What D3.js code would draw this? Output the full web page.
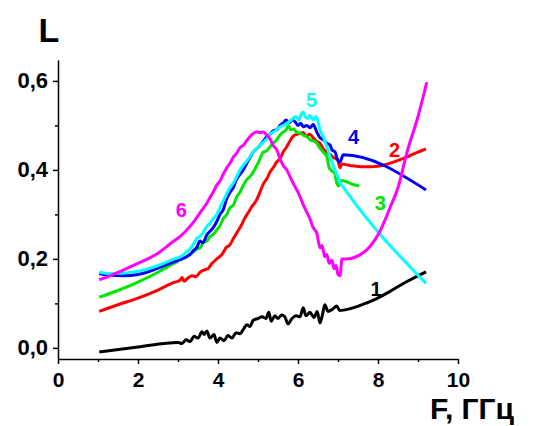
<!DOCTYPE html>
<html><head><meta charset="utf-8">
<script src="https://cdn.jsdelivr.net/npm/d3@7"></script>
<style>
html,body{margin:0;padding:0;background:#fff;}
svg{display:block;font-family:"Liberation Sans",Arial,sans-serif;}
</style></head>
<body>
<svg id="chart" width="533" height="426"></svg>
<script>
// ---------- data (F in GHz, L) ----------
const xTickValues = [0, 2, 4, 6, 8, 10];
const xTickLabels = ["0", "2", "4", "6", "8", "10"];
const xMinorTicks = [1, 3, 5, 7, 9];
const yTickValues = [0, 0.2, 0.4, 0.6];
const yTickLabels = ["0,0", "0,2", "0,4", "0,6"];
const yMinorTicks = [0.1, 0.3, 0.5];

const s1F = [1.03,2.0,3.0,3.1,3.2,3.3,3.4,3.5,3.6,3.65,3.72,3.8,3.9,3.97,4.05,4.15,4.25,4.35,4.45,4.55,4.65,4.72,4.8,4.88,5.0,5.1,5.2,5.27,5.33,5.42,5.5,5.59,5.67,5.75,5.85,5.95,6.05,6.13,6.2,6.3,6.4,6.48,6.55,6.62,6.67,6.75,6.85,6.97,7.04,7.3,7.6,7.9,8.3,8.7,9.2];
const s1L = [-0.009,0.002,0.012,0.010,0.018,0.014,0.026,0.022,0.036,0.030,0.038,0.022,0.030,0.012,0.022,0.016,0.028,0.022,0.034,0.032,0.044,0.052,0.048,0.062,0.066,0.070,0.066,0.080,0.060,0.072,0.066,0.074,0.070,0.054,0.066,0.072,0.070,0.090,0.072,0.080,0.068,0.082,0.056,0.078,0.097,0.082,0.086,0.094,0.084,0.088,0.097,0.108,0.127,0.148,0.171];

const s2F = [1.03,1.5,2.0,2.5,2.9,3.05,3.1,3.15,3.25,3.35,3.45,3.55,3.65,3.75,3.85,3.97,4.1,4.2,4.3,4.38,4.48,4.58,4.66,4.75,4.85,4.95,5.05,5.13,5.22,5.3,5.38,5.47,5.55,5.63,5.72,5.8,5.88,5.97,6.05,6.13,6.2,6.3,6.38,6.47,6.55,6.63,6.72,6.8,6.88,6.95,7.0,7.05,7.1,7.3,7.6,7.8,8.1,8.4,8.7,9.0,9.2];
const s2L = [0.082,0.097,0.112,0.130,0.147,0.152,0.158,0.150,0.157,0.162,0.160,0.170,0.175,0.178,0.190,0.200,0.210,0.225,0.232,0.245,0.260,0.275,0.290,0.303,0.318,0.330,0.350,0.368,0.380,0.395,0.405,0.418,0.425,0.440,0.452,0.465,0.476,0.480,0.482,0.484,0.476,0.480,0.472,0.464,0.460,0.448,0.440,0.435,0.428,0.425,0.420,0.405,0.413,0.410,0.407,0.407,0.410,0.418,0.428,0.440,0.447];

const s3F = [1.03,1.5,2.0,2.5,2.8,3.1,3.3,3.47,3.55,3.65,3.72,3.8,3.88,3.97,4.05,4.13,4.22,4.3,4.38,4.47,4.55,4.63,4.72,4.8,4.88,4.97,5.05,5.13,5.22,5.3,5.38,5.47,5.55,5.63,5.7,5.76,5.82,5.9,5.97,6.05,6.13,6.22,6.3,6.38,6.47,6.55,6.63,6.72,6.78,6.84,6.92,6.97,7.02,7.07,7.2,7.35,7.53];
const s3L = [0.114,0.129,0.148,0.170,0.185,0.200,0.210,0.222,0.225,0.238,0.240,0.250,0.255,0.265,0.275,0.290,0.300,0.315,0.320,0.340,0.350,0.365,0.378,0.385,0.395,0.410,0.425,0.440,0.443,0.452,0.460,0.468,0.478,0.485,0.490,0.499,0.490,0.492,0.484,0.483,0.478,0.475,0.468,0.465,0.460,0.449,0.440,0.430,0.405,0.398,0.392,0.370,0.364,0.376,0.374,0.368,0.364];

const s4F = [1.03,1.3,1.63,2.0,2.47,2.88,3.1,3.22,3.3,3.38,3.47,3.55,3.62,3.72,3.8,3.88,3.97,4.05,4.13,4.22,4.3,4.38,4.47,4.55,4.63,4.72,4.8,4.88,4.97,5.05,5.13,5.22,5.3,5.38,5.47,5.55,5.63,5.7,5.78,5.85,5.93,6.0,6.07,6.13,6.22,6.3,6.38,6.47,6.55,6.63,6.72,6.8,6.85,6.93,6.97,7.05,7.13,9.2];
const s4L = [0.167,0.163,0.162,0.165,0.178,0.193,0.200,0.205,0.210,0.218,0.226,0.240,0.236,0.254,0.262,0.270,0.284,0.300,0.310,0.336,0.350,0.360,0.380,0.390,0.400,0.415,0.428,0.440,0.448,0.455,0.464,0.475,0.480,0.488,0.490,0.500,0.505,0.512,0.506,0.512,0.508,0.500,0.505,0.497,0.500,0.495,0.502,0.485,0.472,0.468,0.460,0.456,0.445,0.440,0.427,0.418,0.434,0.355];

const s5F = [1.03,1.3,1.63,2.0,2.47,2.88,3.1,3.22,3.3,3.38,3.47,3.55,3.62,3.72,3.8,3.88,3.97,4.05,4.13,4.22,4.3,4.38,4.47,4.55,4.63,4.72,4.8,4.88,4.97,5.05,5.13,5.22,5.3,5.38,5.47,5.55,5.63,5.72,5.8,5.88,5.95,6.02,6.08,6.13,6.18,6.25,6.3,6.38,6.45,6.5,6.55,6.63,6.72,6.8,6.88,6.97,7.05,7.15,9.2];
const s5L = [0.170,0.167,0.168,0.172,0.184,0.199,0.207,0.216,0.222,0.232,0.246,0.250,0.258,0.273,0.280,0.290,0.300,0.315,0.330,0.347,0.360,0.370,0.385,0.400,0.410,0.420,0.430,0.440,0.448,0.455,0.462,0.470,0.480,0.485,0.490,0.497,0.500,0.505,0.510,0.516,0.520,0.512,0.525,0.530,0.520,0.515,0.522,0.512,0.520,0.508,0.490,0.475,0.452,0.430,0.410,0.390,0.372,0.359,0.145];

const s6F = [1.03,1.3,1.63,2.0,2.47,2.88,3.05,3.3,3.47,3.6,3.72,3.8,3.88,3.97,4.05,4.13,4.22,4.3,4.38,4.47,4.55,4.63,4.72,4.8,4.88,4.97,5.05,5.13,5.2,5.3,5.38,5.47,5.55,5.63,5.72,5.8,5.88,5.97,6.05,6.13,6.22,6.3,6.38,6.47,6.55,6.6,6.67,6.72,6.78,6.85,6.9,6.95,7.0,7.05,7.1,7.2,7.55,7.8,8.05,8.3,8.5,8.72,9.0,9.22];
const s6L = [0.153,0.162,0.175,0.190,0.211,0.239,0.250,0.273,0.293,0.310,0.325,0.338,0.350,0.366,0.375,0.390,0.405,0.415,0.428,0.438,0.450,0.455,0.466,0.475,0.482,0.485,0.484,0.485,0.480,0.470,0.455,0.445,0.425,0.410,0.400,0.385,0.370,0.355,0.340,0.322,0.305,0.290,0.270,0.258,0.225,0.230,0.205,0.210,0.190,0.197,0.178,0.185,0.165,0.162,0.200,0.200,0.209,0.228,0.262,0.315,0.360,0.438,0.520,0.597];

const seriesNames = ["1", "2", "3", "4", "5", "6"];
const seriesColors = ["#000000", "#ff0000", "#00e600", "#0000ff", "#00ffff", "#ff00ff"];
const seriesF = [s1F, s2F, s3F, s4F, s5F, s6F];
const seriesL = [s1L, s2L, s3L, s4L, s5L, s6L];
// curve label anchor positions (data coords)
const labelF = [7.95, 8.415, 8.06, 7.39, 6.34, 3.08];
const labelL = [0.132, 0.445, 0.325, 0.475, 0.557, 0.310];

// ---------- drawing ----------
const svg = d3.select("#chart");
const x = d3.scaleLinear().domain([0, 10]).range([58, 458]);
const y = d3.scaleLinear().domain([-0.025, 0.647]).range([359, 60]);
const fontMain = '"Liberation Sans", Arial, sans-serif';

// curves
const line = d3.line().x(d => x(d[0])).y(d => y(d[1])).curve(d3.curveMonotoneX);
seriesF.forEach((fs, i) => {
  const pts = fs.map((f, j) => [f, seriesL[i][j]]);
  svg.append("path").datum(pts)
    .attr("d", line)
    .attr("fill", "none")
    .attr("stroke", seriesColors[i])
    .attr("stroke-width", 3)
    .attr("stroke-linejoin", "round");
});

// axes
function styleAxis(g, size) {
  g.selectAll("path,line").attr("stroke", "#000").attr("stroke-width", 1.5);
  g.selectAll("text").attr("font-family", fontMain).attr("font-weight", "bold")
   .attr("font-size", size).attr("fill", "#000");
}
const xAxis = svg.append("g").attr("transform", "translate(0,359)")
  .call(d3.axisBottom(x).tickValues(xTickValues).tickSize(5).tickSizeOuter(0).tickPadding(8)
    .tickFormat((d, i) => xTickLabels[i]));
styleAxis(xAxis, 21);
const xMinor = svg.append("g").attr("transform", "translate(0,359)")
  .call(d3.axisBottom(x).tickValues(xMinorTicks).tickSize(3).tickSizeOuter(0).tickFormat(""));
styleAxis(xMinor, 21);
xMinor.select(".domain").remove();

const yAxis = svg.append("g").attr("transform", "translate(58,0)")
  .call(d3.axisLeft(y).tickValues(yTickValues).tickSize(5).tickSizeOuter(0).tickPadding(5)
    .tickFormat((d, i) => yTickLabels[i]));
styleAxis(yAxis, 22);
const yMinor = svg.append("g").attr("transform", "translate(58,0)")
  .call(d3.axisLeft(y).tickValues(yMinorTicks).tickSize(3).tickSizeOuter(0).tickFormat(""));
styleAxis(yMinor, 22);
yMinor.select(".domain").remove();

// axis titles
svg.append("text").attr("x", 49).attr("y", 42).attr("text-anchor", "middle")
  .attr("font-family", fontMain).attr("font-weight", "bold").attr("font-size", 34).text("L");
svg.append("text").attr("x", 472).attr("y", 419).attr("text-anchor", "middle")
  .attr("font-family", fontMain).attr("font-weight", "bold").attr("font-size", 30).text("F, ГГц");

// curve labels
seriesNames.forEach((n, i) => {
  svg.append("text").attr("x", x(labelF[i])).attr("y", y(labelL[i]))
    .attr("text-anchor", "middle").attr("dy", "0.36em")
    .attr("font-family", fontMain).attr("font-weight", "bold").attr("font-size", 20)
    .attr("fill", seriesColors[i]).text(n);
});
</script>
</body></html>
